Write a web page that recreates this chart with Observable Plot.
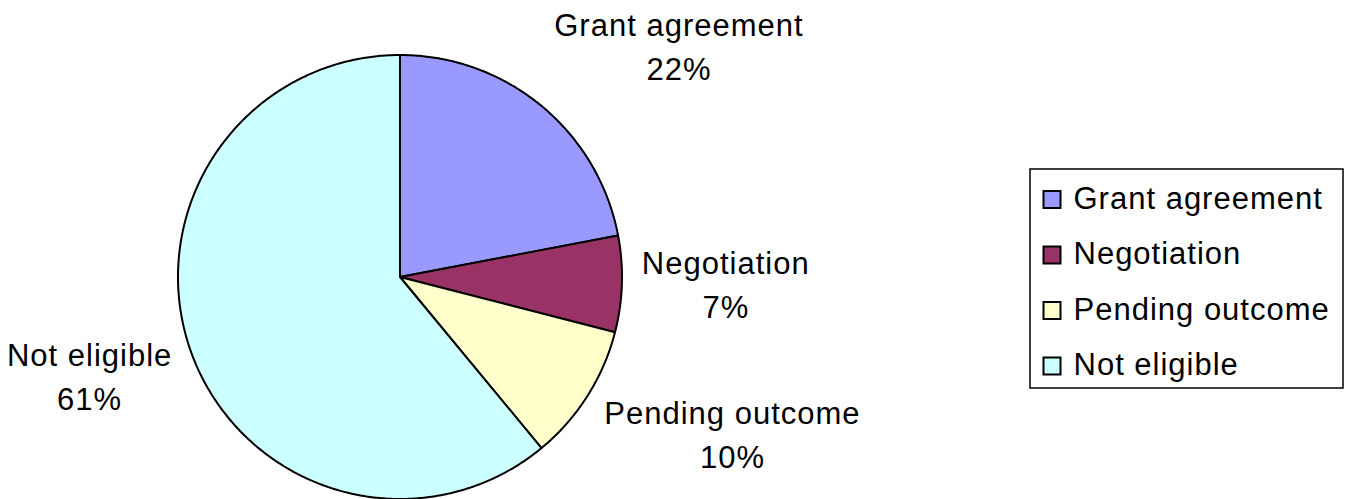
<!DOCTYPE html>
<html>
<head>
<meta charset="utf-8">
<script src="https://cdn.jsdelivr.net/npm/d3@7"></script>
<script src="https://cdn.jsdelivr.net/npm/@observablehq/plot@0.6"></script>
<style>
  html, body { margin: 0; padding: 0; background: #fff; }
  #chart svg { display: block; }
</style>
</head>
<body>
<div id="chart"></div>
<script>
// ---- data ----
const categories = ["Grant agreement", "Negotiation", "Pending outcome", "Not eligible"];
const shares = [22, 7, 10, 61];
const percentLabels = ["22%", "7%", "10%", "61%"];
const sliceColors = ["#9999FF", "#993366", "#FFFFCC", "#CCFFFF"];

// ---- layout ----
const W = 1347, H = 499;
const cx = 399.5, cy = 276.5, R = 222;
const FONT = "Liberation Sans, Arial, sans-serif";
const FS = 31, LS = 1;               // font size, letter spacing
const lineGap = 44;                  // px between label lines
const labelGap = 20, labelLift = 55;
const legend = {x0: 1030, y0: 169, x1: 1343, y1: 388, sq: 17, sqX: 1052, textX: 1073, firstRow: 199.5, rowStep: 55.5};

const pie = d3.pie().sort(null).value(d => d.value);
const table = categories.map((name, i) => ({name, value: shares[i], pct: percentLabels[i]}));
const arcs = pie(table);

// polygon points per slice, derived from pie angles
const pts = [];
arcs.forEach(a => {
  const name = a.data.name;
  pts.push({name, x: cx, y: cy});
  const n = Math.max(2, Math.ceil((a.endAngle - a.startAngle) / (Math.PI / 360)));
  for (let k = 0; k <= n; k++) {
    const t = a.startAngle + (a.endAngle - a.startAngle) * k / n;
    pts.push({name, x: cx + R * Math.sin(t), y: cy - R * Math.cos(t)});
  }
  pts.push({name, x: cx, y: cy});
});

// label placement outside the pie (text box beside the mid-angle anchor)
const ctx = document.createElement("canvas").getContext("2d");
ctx.font = `${FS}px ${FONT}`;
const measure = s => ctx.measureText(s).width + s.length * LS;
const labels = arcs.map(a => {
  const m = (a.startAngle + a.endAngle) / 2;
  const dx = Math.sin(m), dy = -Math.cos(m);
  const w = Math.max(measure(a.data.name), measure(a.data.pct));
  const ax = cx + dx * (R + labelGap), ay = cy + dy * (R + labelGap);
  return {
    text: a.data.name + "\n" + a.data.pct,
    x: ax + Math.sign(dx) * w / 2,
    y: ay + dy * labelLift
  };
});

const legendRows = categories.map((name, i) => {
  const yc = legend.firstRow + i * legend.rowStep;
  return {name, x1: legend.sqX - legend.sq / 2, x2: legend.sqX + legend.sq / 2,
          y1: yc - legend.sq / 2, y2: yc + legend.sq / 2, tx: legend.textX, ty: yc};
});

const chart = Plot.plot({
  width: W, height: H,
  margin: 0,
  x: {type: "identity", axis: null},
  y: {type: "identity", axis: null},
  color: {domain: categories, range: sliceColors},
  style: {fontFamily: FONT, background: "white"},
  marks: [
    Plot.line(pts, {x: "x", y: "y", z: "name", fill: "name", stroke: "black", strokeWidth: 2, strokeLinejoin: "round", curve: "linear"}),
    Plot.text(labels, {x: "x", y: "y", dy: -4, text: "text", textAnchor: "middle", lineAnchor: "middle",
      lineHeight: lineGap / FS, fontSize: FS, fill: "black", fontFamily: FONT}),
    Plot.rect([legend], {x1: "x0", x2: "x1", y1: "y0", y2: "y1", fill: "white", stroke: "black", strokeWidth: 1.5}),
    Plot.rect(legendRows, {x1: "x1", x2: "x2", y1: "y1", y2: "y2", fill: "name", stroke: "black", strokeWidth: 2}),
    Plot.text(legendRows, {x: "tx", y: "ty", dy: -1, text: "name", textAnchor: "start", fontSize: FS, fill: "black", fontFamily: FONT})
  ]
});
chart.querySelectorAll("text").forEach(t => t.style.letterSpacing = LS + "px");
document.getElementById("chart").appendChild(chart);
</script>
</body>
</html>
